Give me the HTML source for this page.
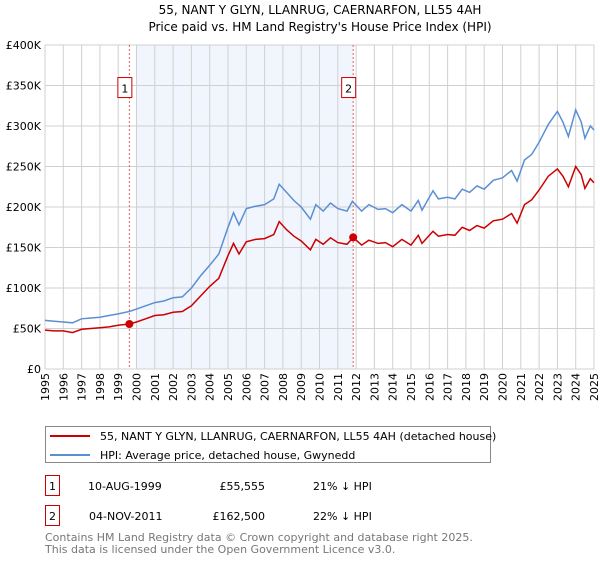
<!DOCTYPE html>
<html><head><meta charset="utf-8"><style>
body{margin:0;background:#fff;font-family:"Liberation Sans","DejaVu Sans",sans-serif;}
svg text{font-family:"DejaVu Sans","Liberation Sans",sans-serif;}
</style></head><body>
<svg id="c" width="600" height="560">
<text x="320" y="14" font-size="12" text-anchor="middle">55, NANT Y GLYN, LLANRUG, CAERNARFON, LL55 4AH</text>
<text x="320" y="31" font-size="12" text-anchor="middle">Price paid vs. HM Land Registry's House Price Index (HPI)</text>
<g id="plot"></g>
<rect x="45.5" y="426.5" width="445" height="36" fill="#fff" stroke="#888"/>
<line x1="50" y1="436" x2="90" y2="436" stroke="#cc0000" stroke-width="2"/>
<text x="100" y="440" font-size="11">55, NANT Y GLYN, LLANRUG, CAERNARFON, LL55 4AH (detached house)</text>
<line x1="50" y1="455" x2="90" y2="455" stroke="#5b8fd4" stroke-width="2"/>
<text x="100" y="459" font-size="11">HPI: Average price, detached house, Gwynedd</text>
<g font-size="11">
<rect x="45.5" y="475.5" width="14" height="20" fill="none" stroke="#cc0000"/>
<text x="52.5" y="490" text-anchor="middle">1</text>
<text x="88" y="490">10-AUG-1999</text>
<text x="265" y="490" text-anchor="end">£55,555</text>
<text x="313" y="490">21% ↓ HPI</text>
<rect x="45.5" y="505.5" width="14" height="20" fill="none" stroke="#cc0000"/>
<text x="52.5" y="520" text-anchor="middle">2</text>
<text x="89" y="520">04-NOV-2011</text>
<text x="265" y="520" text-anchor="end">£162,500</text>
<text x="313" y="520">22% ↓ HPI</text>
</g>
<text x="45" y="541" font-size="11" fill="#777">Contains HM Land Registry data © Crown copyright and database right 2025.</text>
<text x="45" y="553" font-size="11" fill="#777">This data is licensed under the Open Government Licence v3.0.</text>
</svg>
<script>
const yTicks=[0,50,100,150,200,250,300,350,400];
const yTickLabels=["£0","£50K","£100K","£150K","£200K","£250K","£300K","£350K","£400K"];
const xYears=[1995,1996,1997,1998,1999,2000,2001,2002,2003,2004,2005,2006,2007,2008,2009,2010,2011,2012,2013,2014,2015,2016,2017,2018,2019,2020,2021,2022,2023,2024,2025];
const hpiT=[1995,1995.5,1996,1996.5,1997,1997.5,1998,1998.5,1999,1999.6,2000,2000.5,2001,2001.5,2002,2002.5,2003,2003.5,2004,2004.5,2005,2005.3,2005.6,2006,2006.5,2007,2007.5,2007.8,2008.2,2008.6,2009,2009.5,2009.8,2010.2,2010.6,2011,2011.5,2011.8,2012.3,2012.7,2013.2,2013.6,2014,2014.5,2015,2015.4,2015.6,2016.2,2016.5,2017,2017.4,2017.8,2018.2,2018.6,2019,2019.5,2020,2020.5,2020.8,2021.2,2021.6,2022,2022.5,2023,2023.3,2023.6,2024,2024.3,2024.5,2024.8,2025];
const hpiV=[60,59,58,57,62,63,64,66,68,71,74,78,82,84,88,89,100,115,128,142,175,193,178,198,201,203,210,228,218,208,200,185,203,195,205,198,195,207,195,203,197,198,193,203,195,208,196,220,210,212,210,222,218,226,222,233,236,245,232,258,265,280,302,318,305,287,320,305,285,300,295];
const ppT=[1995,1995.5,1996,1996.5,1997,1997.5,1998,1998.5,1999,1999.6,2000,2000.5,2001,2001.5,2002,2002.5,2003,2003.5,2004,2004.5,2005,2005.3,2005.6,2006,2006.5,2007,2007.5,2007.8,2008.2,2008.6,2009,2009.5,2009.8,2010.2,2010.6,2011,2011.5,2011.84,2012.3,2012.7,2013.2,2013.6,2014,2014.5,2015,2015.4,2015.6,2016.2,2016.5,2017,2017.4,2017.8,2018.2,2018.6,2019,2019.5,2020,2020.5,2020.8,2021.2,2021.6,2022,2022.5,2023,2023.3,2023.6,2024,2024.3,2024.5,2024.8,2025];
const ppV=[48,47,47,45,49,50,51,52,54,55.6,58,62,66,67,70,71,78,90,102,112,140,155,142,157,160,161,166,182,172,164,158,147,160,154,162,156,154,162.5,153,159,155,156,151,160,153,165,155,170,164,166,165,175,171,177,174,183,185,192,180,203,209,221,238,247,238,225,250,240,223,235,230];
const saleT=[1999.61,2011.84];
const saleV=[55.555,162.5];
const saleLabels=["1","2"];
const L=45,R=594,T=45,B=369;
const xs=y=>L+(y-1995)/30*(R-L);
const ys=v=>B-v/400*(B-T);
const NS="http://www.w3.org/2000/svg";
const g=document.getElementById('plot');
function mk(tag,at,txt){const e=document.createElementNS(NS,tag);for(const k in at)e.setAttribute(k,at[k]);if(txt!==undefined)e.textContent=txt;g.appendChild(e);return e;}
let e=mk('rect',{x:xs(2000),y:T,width:xs(saleT[1])-xs(2000),height:B-T,fill:'#eef3fc',opacity:0.8});


xYears.forEach(yr=>{
 let l=mk('line',{x1:xs(yr),x2:xs(yr),y1:T,y2:B,stroke:'#d0d0d0'});
 
 
 let t=mk('text',{x:0,y:0,'font-size':11,'text-anchor':'end',transform:`translate(${xs(yr)+4},${B+4}) rotate(-90)`},String(yr));
 
 
});
yTicks.forEach((v,i)=>{
 let l=mk('line',{x1:L,x2:R,y1:ys(v),y2:ys(v),stroke:'#d0d0d0'});
 
 
 let t=mk('text',{x:L-4,y:ys(v)+4,'font-size':11,'text-anchor':'end'},yTickLabels[i]);
 
 
});
saleT.forEach((s,i)=>{
 let l=mk('line',{x1:xs(s),x2:xs(s),y1:T,y2:B,stroke:'#e06060','stroke-dasharray':'2,2'});
 
 
 let r=mk('rect',{x:xs(s)-11.5,y:ys(345)-12,width:14,height:20,fill:'#fff',stroke:'#cc0000'});
 
 
 let t=mk('text',{x:xs(s)-4.5,y:ys(345)+3,'font-size':11,'text-anchor':'middle'},saleLabels[i]);
 
 
});
let p1=mk('path',{d:hpiT.map((t,i)=>(i?'L':'M')+xs(t).toFixed(1)+','+ys(hpiV[i]).toFixed(1)).join(''),fill:'none',stroke:'#5b8fd4','stroke-width':1.5});


let p2=mk('path',{d:ppT.map((t,i)=>(i?'L':'M')+xs(t).toFixed(1)+','+ys(ppV[i]).toFixed(1)).join(''),fill:'none',stroke:'#cc0000','stroke-width':1.5});


saleT.forEach((s,i)=>{
 let c=mk('circle',{cx:xs(s),cy:ys(saleV[i]),r:4,fill:'#cc0000'});
 
 
});
</script>
</body></html>
